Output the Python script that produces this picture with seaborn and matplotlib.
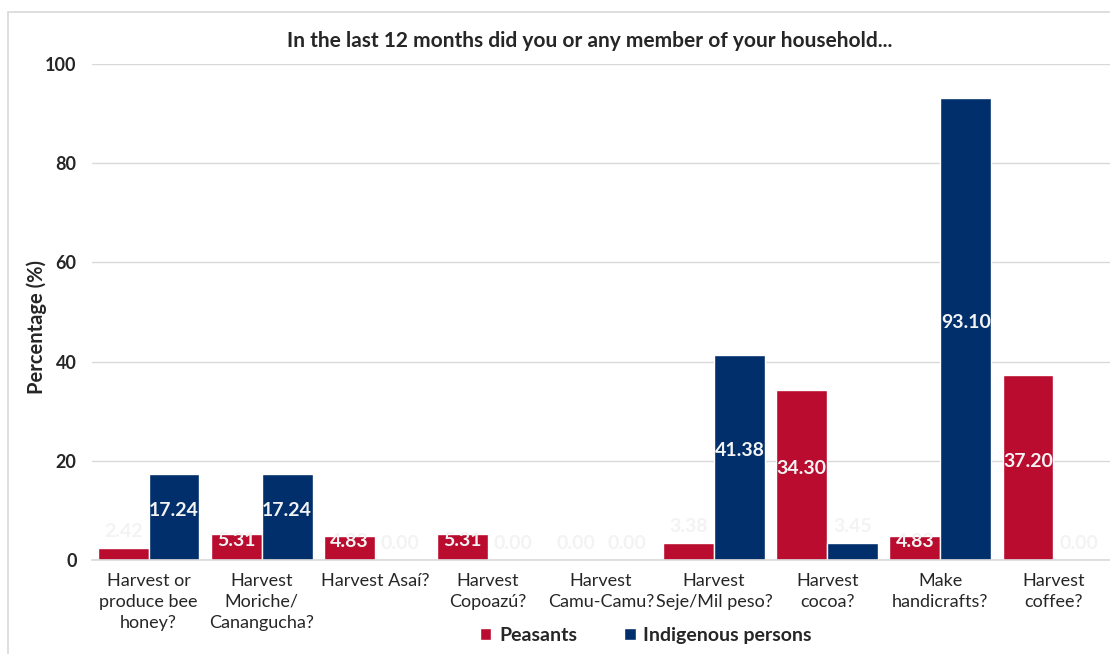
import matplotlib
matplotlib.use("Agg")
import matplotlib.pyplot as plt
import seaborn as sns
import pandas as pd
import numpy as np
from matplotlib.patches import Rectangle

categories = ["Harvest or\nproduce bee\nhoney?", "Harvest\nMoriche/\nCanangucha?", "Harvest Asaí?",
              "Harvest\nCopoazú?", "Harvest\nCamu-Camu?", "Harvest\nSeje/Mil peso?",
              "Harvest\ncocoa?", "Make\nhandicrafts?", "Harvest\ncoffee?"]
peasants = [2.42, 5.31, 4.83, 5.31, 0.00, 3.38, 34.30, 4.83, 37.20]
indigenous = [17.24, 17.24, 0.00, 0.00, 0.00, 41.38, 3.45, 93.10, 0.00]
groups = ["Peasants", "Indigenous persons"]
colors = ["#BA0C2F", "#002F6C"]
title = "In the last 12 months did you or any member of your household..."

df = pd.DataFrame({
    "category": categories * 2,
    "value": peasants + indigenous,
    "group": [groups[0]] * len(categories) + [groups[1]] * len(categories),
})

sns.set_style("white")
plt.rcParams['font.family'] = ['Lato', 'DejaVu Sans']

fig = plt.figure(figsize=(11.1, 6.54), dpi=100)
ax = fig.add_axes([92/1110, 1 - 560/654, 1018/1110, (560-64)/654])

sns.barplot(data=df, x="category", y="value", hue="group", palette=colors,
            width=0.9, ax=ax, legend=True, saturation=1, errorbar=None)

ax.set_ylim(0, 100)
ax.set_xlim(-0.5, len(categories) - 0.5)
ax.set_yticks([0, 20, 40, 60, 80, 100])
ax.yaxis.grid(True, color="#d9d9d9", linewidth=1)
ax.set_axisbelow(True)
for s in ["top", "right", "left"]:
    ax.spines[s].set_visible(False)
ax.spines["bottom"].set_color("#d9d9d9")
ax.spines["bottom"].set_linewidth(1.2)

ax.tick_params(axis="y", length=0, pad=11, labelsize=13)
for t in ax.get_yticklabels():
    t.set_fontweight("bold")
    t.set_color("#262626")
ax.tick_params(axis="x", which="major", length=0, pad=9, labelsize=13, labelcolor="#262626")
for t in ax.get_xticklabels():
    t.set_linespacing(1.4)
ax.set_xticks(np.arange(-0.5, len(categories)), minor=True)
ax.tick_params(axis="x", which="minor", length=6, color="#d9d9d9", width=1.2)

ax.set_xlabel("")
ax.set_ylabel("Percentage (%)", fontsize=14.5, fontweight="bold", color="#262626")
ax.yaxis.set_label_coords(-0.054, 0.47)
ax.yaxis.label.set_verticalalignment("center")
ax.set_title(title, fontsize=15, fontweight="bold", color="#262626", pad=12, x=0.489)

for container in ax.containers:
    for bar in container:
        v = bar.get_height()
        pos = v + 3.3 if v < 4 else v / 2 + 1.3
        ax.text(bar.get_x() + bar.get_width() / 2, pos, f"{v:.2f}", ha="center", va="center",
                color="#f3f3f3", fontsize=14, fontweight="bold")

leg = ax.legend(loc="lower center", bbox_to_anchor=(0.544, -0.205), ncol=2, frameon=False,
                handlelength=0.6, handleheight=0.6, columnspacing=2.4, handletextpad=0.4,
                prop={"weight": "bold", "size": 14})
for t in leg.get_texts():
    t.set_color("#262626")

fig.patches.append(Rectangle((8/1110, -0.1), 1.2, 1 - 12/654 + 0.1, transform=fig.transFigure,
                             fill=False, edgecolor="#d9d9d9", linewidth=1.2))

fig.savefig("out.png", dpi=100)
